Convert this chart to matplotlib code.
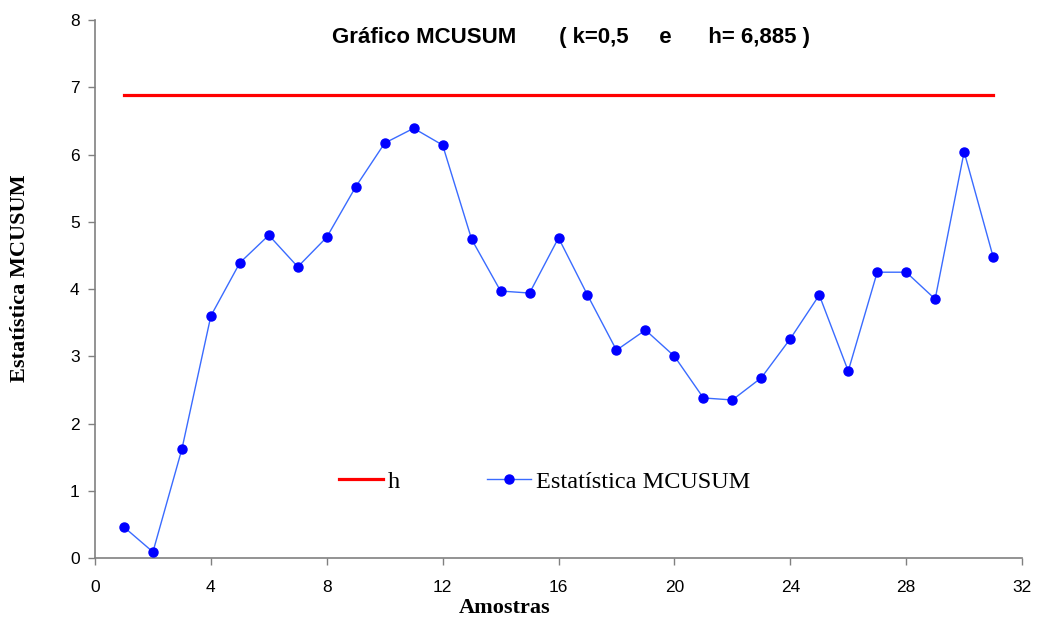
import matplotlib
matplotlib.use("Agg")
import matplotlib.pyplot as plt

# Sample numbers and MCUSUM statistic values
amostras = list(range(1, 32))
mcusum = [0.46, 0.09, 1.62, 3.60, 4.39, 4.80, 4.33, 4.77, 5.52, 6.17,
          6.39, 6.14, 4.74, 3.97, 3.94, 4.76, 3.91, 3.09, 3.39, 3.00,
          2.38, 2.35, 2.68, 3.26, 3.91, 2.78, 4.25, 4.25, 3.85, 6.04,
          4.48]
h_value = 6.885
h_line = [h_value] * len(amostras)

x_ticks = [0, 4, 8, 12, 16, 20, 24, 28, 32]
y_ticks = [0, 1, 2, 3, 4, 5, 6, 7, 8]

fig = plt.figure(figsize=(10.37, 6.2), dpi=100)
ax = fig.add_axes([0.0916, 0.1, 0.894, 0.8677])

ax.plot(amostras, h_line, color="#ff0000", linewidth=2.3, label="h", zorder=2)
ax.plot(amostras, mcusum, color="#3a6bff", linewidth=1.0, marker="o",
        markersize=6.5, markerfacecolor="#0000ff", markeredgecolor="#0000ff",
        label="Estatística MCUSUM", zorder=3)

ax.set_xlim(0, 32)
ax.set_ylim(0, 8)
ax.set_xticks(x_ticks)
ax.set_yticks(y_ticks)

for side in ("top", "right"):
    ax.spines[side].set_visible(False)
for side in ("left", "bottom"):
    ax.spines[side].set_color("#808080")
    ax.spines[side].set_linewidth(1.2)
ax.tick_params(direction="out", length=5, width=1.0, color="#808080",
               labelsize=12.5, pad=6)
ax.tick_params(axis="x", pad=11)
for lbl in ax.get_xticklabels() + ax.get_yticklabels():
    lbl.set_family("Liberation Sans")

ax.set_xlabel("Amostras", family="Liberation Serif", fontweight="bold",
              fontsize=16)
ax.xaxis.set_label_coords(0.442, -0.093)
ax.xaxis.label.set_va("center")
ax.set_ylabel("Estatística MCUSUM", family="Liberation Serif",
              fontweight="bold", fontsize=16)
ax.yaxis.set_label_coords(-0.081, 0.52)
ax.yaxis.label.set_va("center")

ax.text(0.513, 0.967, "Gráfico MCUSUM       ( k=0,5     e      h= 6,885 )",
        transform=ax.transAxes, ha="center", va="center",
        family="Liberation Sans", fontweight="bold", fontsize=16)

leg = ax.legend(loc="center", bbox_to_anchor=(0.485, 0.142), ncol=2,
                frameon=False, prop={"family": "Liberation Serif", "size": 17.5},
                handlelength=1.8, handletextpad=0.2, columnspacing=3.6)

fig.savefig("out.png", dpi=100, facecolor="white")
